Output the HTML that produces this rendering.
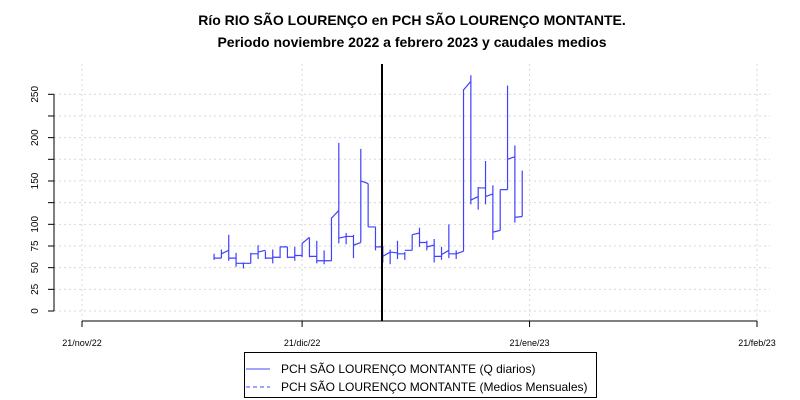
<!DOCTYPE html>
<html><head><meta charset="utf-8"><style>
body{margin:0;background:#fff}
svg{display:block;font-family:"Liberation Sans",sans-serif}
</style></head><body>
<svg id="chart" width="800" height="400" xmlns="http://www.w3.org/2000/svg">
<g font-weight="bold" font-size="14" text-anchor="middle">
<text x="412" y="25">Río RIO SÃO LOURENÇO en PCH SÃO LOURENÇO MONTANTE.</text>
<text x="412" y="47">Periodo noviembre 2022 a febrero 2023 y caudales medios</text>
</g>
<g id="grid"></g>
<g id="yaxis"></g>
<g id="xaxis"></g>
<g id="series"></g>
<line x1="382" y1="64" x2="382" y2="321" stroke="#000" stroke-width="2"/>
<g>
<rect x="244.5" y="352.5" width="352" height="45" fill="#fff" stroke="#000"/>
<line x1="246" y1="369" x2="270" y2="369" stroke="#4444ff"/>
<line x1="246" y1="387" x2="270" y2="387" stroke="#4444ff" stroke-dasharray="4,3"/>
<text x="281" y="373" font-size="12">PCH SÃO LOURENÇO MONTANTE (Q diarios)</text>
<text x="281" y="391" font-size="12">PCH SÃO LOURENÇO MONTANTE (Medios Mensuales)</text>
</g>
</svg>
<script>
// day offsets from 21/nov/22
const dayStart = 18;
const startVals = [61,66,61,55,55,66,68,61,62,74,62,64,78,63,58,58,107,84,86,76,150,97,74,63,68,66,70,88,79,74,63,65,66,66,255,128,142,132,91,140,175,108];
const endVals   = [61,70,61,55,55,66,70,61,62,74,62,64,85,63,58,58,116,86,86,79,147,97,74,68,67,66,70,90,79,76,63,70,66,69,265,132,142,135,93,140,178,109];
const rangeLo = [59,61,58,51,49,55,60,60,55,61,61,58,62,62,55,54,58,78,77,61,79,97,70,56,54,60,59,70,74,70,56,59,61,60,69,123,117,123,82,93,140,102,109];
const rangeHi = [66,71,88,67,56,67,76,69,71,74,74,74,78,85,81,70,108,194,90,88,187,147,97,75,71,81,68,88,96,81,83,74,100,70,256,272,143,173,145,140,260,191,162];
const yTicks = [0,25,50,75,100,125,150,175,200,225,250];
const yLabels = ["0","25","50","75","100","","150","","200","","250"];
const xTickDays = [0,30,61,92];
const xLabels = ["21/nov/22","21/dic/22","21/ene/23","21/feb/23"];

const NS="http://www.w3.org/2000/svg";
const X = d => 82 + d*(675/92);
const Y = v => 311 - v*(216.7/250);
function mk(tag,attrs,parent){const e=document.createElementNS(NS,tag);for(const k in attrs)e.setAttribute(k,attrs[k]);parent.appendChild(e);return e;}
const grid=document.getElementById('grid'), ya=document.getElementById('yaxis'), xa=document.getElementById('xaxis'), ser=document.getElementById('series');

yTicks.forEach((t,i)=>{
  const y=Y(t);
  const g=mk('line',{x1:54,y1:y,x2:770,y2:y,stroke:'#d8d8d8','stroke-dasharray':'2,3'},grid);
  
  
  const tk=mk('line',{x1:48,y1:y,x2:54,y2:y,stroke:'#000'},ya);
  
  
  if(yLabels[i]){
    const tx=mk('text',{x:38,y:y,'font-size':10,'text-anchor':'middle',transform:`rotate(-90 38 ${y})`},ya);
    tx.textContent=yLabels[i];
    
    
  }
});
const yl=mk('line',{x1:54,y1:Y(0),x2:54,y2:Y(250),stroke:'#000'},ya);



xTickDays.forEach((d,i)=>{
  const x=X(d);
  const g=mk('line',{x1:x,y1:64,x2:x,y2:321,stroke:'#d8d8d8','stroke-dasharray':'2,3'},grid);
  
  
  const tk=mk('line',{x1:x,y1:321,x2:x,y2:327,stroke:'#000'},xa);
  
  
  const tx=mk('text',{x:x,y:346,'font-size':9,'text-anchor':'middle'},xa);
  tx.textContent=xLabels[i];
  
  
});
const xl=mk('line',{x1:X(0),y1:321,x2:X(92),y2:321,stroke:'#000'},xa);



let d='';
for(let i=0;i<startVals.length;i++){
  const d0=dayStart+i;
  d+=`M${X(d0)},${Y(startVals[i])}L${X(d0+1)},${Y(endVals[i])}`;
}
for(let i=0;i<rangeLo.length;i++){
  const x=X(dayStart+i);
  d+=`M${x},${Y(rangeLo[i])}L${x},${Y(rangeHi[i])}`;
}
const p=mk('path',{d:d,fill:'none',stroke:'#4040ff','stroke-width':1.2},ser);


</script>
</body></html>
